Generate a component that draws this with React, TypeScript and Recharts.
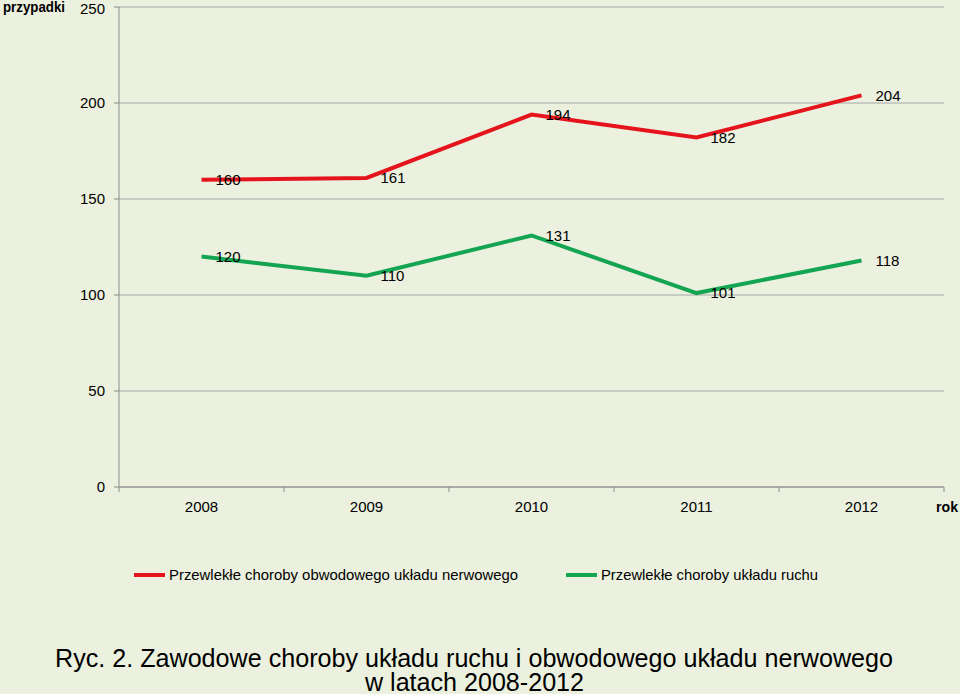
import React from "react";
import { ComposedChart, Line, XAxis, YAxis, CartesianGrid, LabelList } from "recharts";

const years = ["2008", "2009", "2010", "2011", "2012"];
const nerwowego = [160, 161, 194, 182, 204];
const ruchu = [120, 110, 131, 101, 118];
const yTicks = [0, 50, 100, 150, 200, 250];
const seriesNames = [
  "Przewlekłe choroby obwodowego układu nerwowego",
  "Przewlekłe choroby układu ruchu",
];
const title1 = "Ryc. 2. Zawodowe choroby układu ruchu i obwodowego układu nerwowego";
const title2 = "w latach 2008-2012";

const data = years.map((y, i) => ({ year: y, a: nerwowego[i], b: ruchu[i] }));

const RED = "#E5141C";
const GREEN = "#14A553";
const BG = "#EBF1DE";
const FONT = "'Liberation Sans', Arial, sans-serif";

const W = 960;
const PLOT_LEFT = 119;
const PLOT_RIGHT = 944;
const BAND = (PLOT_RIGHT - PLOT_LEFT) / years.length;

const XTick = (props: any) => {
  const { x, y, payload, index } = props;
  const left = x - BAND / 2;
  return (
    <g>
      <line x1={left} x2={left} y1={y} y2={y + 5} stroke="#8C8C8C" strokeWidth={1} />
      {index === years.length - 1 && (
        <line x1={left + BAND} x2={left + BAND} y1={y} y2={y + 5} stroke="#8C8C8C" strokeWidth={1} />
      )}
      <text x={x} y={y + 25} textAnchor="middle" fontSize={15} fontFamily={FONT} fill="#000">
        {payload.value}
      </text>
    </g>
  );
};

export default function App() {
  return (
    <div style={{ position: "absolute", left: 0, top: 0, width: W, height: 694, background: BG, overflow: "hidden" }}>
      <ComposedChart
        width={W}
        height={540}
        data={data}
        margin={{ top: 7, right: W - PLOT_RIGHT, left: 0, bottom: 0 }}
      >
        <CartesianGrid horizontal vertical={false} stroke="#A6A6A6" strokeWidth={1} />
        <XAxis
          dataKey="year"
          scale="band"
          height={53}
          tickSize={0}
          tickMargin={0}
          tick={<XTick />}
          axisLine={{ stroke: "#8C8C8C" }}
          tickLine={false}
          interval={0}
        />
        <YAxis
          width={PLOT_LEFT}
          domain={[0, 250]}
          ticks={yTicks}
          tickSize={5}
          tickMargin={9}
          axisLine={{ stroke: "#8C8C8C" }}
          tickLine={{ stroke: "#8C8C8C" }}
          tick={{ fontSize: 15, fontFamily: FONT, fill: "#000" }}
        />
        <Line
          dataKey="a"
          name={seriesNames[0]}
          stroke={RED}
          strokeWidth={4}
          dot={false}
          isAnimationActive={false}
        >
          <LabelList dataKey="a" position="right" offset={14} fontSize={15} fontFamily={FONT} fill="#000" />
        </Line>
        <Line
          dataKey="b"
          name={seriesNames[1]}
          stroke={GREEN}
          strokeWidth={4}
          dot={false}
          isAnimationActive={false}
        >
          <LabelList dataKey="b" position="right" offset={14} fontSize={15} fontFamily={FONT} fill="#000" />
        </Line>
        <text x={3} y={12} fontSize={14} fontWeight="bold" fontFamily={FONT} fill="#000" textLength={62} lengthAdjust="spacingAndGlyphs">
          przypadki
        </text>
        <text x={936} y={512} fontSize={14} fontWeight="bold" fontFamily={FONT} fill="#000" textLength={22} lengthAdjust="spacingAndGlyphs">
          rok
        </text>
      </ComposedChart>
      <svg width={W} height={154} style={{ position: "absolute", left: 0, top: 540 }}>
        <line x1={134} x2={165} y1={35} y2={35} stroke={RED} strokeWidth={4} />
        <text x={169} y={40} fontSize={15} fontFamily={FONT} fill="#000" textLength={349} lengthAdjust="spacingAndGlyphs">
          {seriesNames[0]}
        </text>
        <line x1={566} x2={597} y1={35} y2={35} stroke={GREEN} strokeWidth={4} />
        <text x={601} y={40} fontSize={15} fontFamily={FONT} fill="#000" textLength={217} lengthAdjust="spacingAndGlyphs">
          {seriesNames[1]}
        </text>
        <text x={55} y={127} fontSize={25} fontFamily={FONT} fill="#000" textLength={838} lengthAdjust="spacingAndGlyphs">
          {title1}
        </text>
        <text x={365} y={151} fontSize={25} fontFamily={FONT} fill="#000" textLength={219} lengthAdjust="spacingAndGlyphs">
          {title2}
        </text>
      </svg>
    </div>
  );
}
